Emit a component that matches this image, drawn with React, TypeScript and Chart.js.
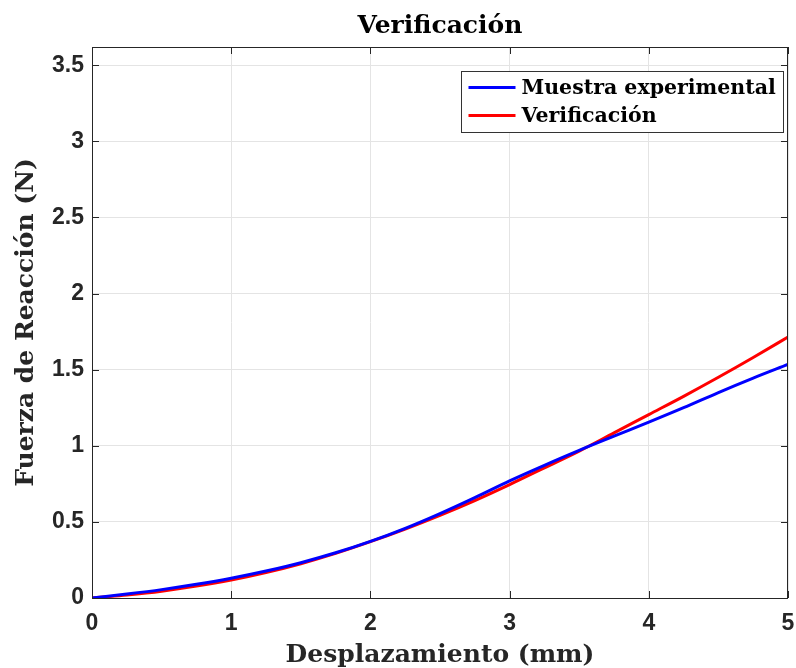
import { useEffect, useRef } from "react";
import { Chart, registerables } from "chart.js";

Chart.register(...registerables);

// Displacement samples (mm)
const desplazamiento = [0, 0.25, 0.5, 0.75, 1, 1.25, 1.5, 1.75, 2, 2.25, 2.5, 2.75, 3, 3.25, 3.5, 3.75, 4, 4.25, 4.5, 4.75, 5];
// Measured reaction force (N)
const muestraExperimental = [0, 0.026, 0.055, 0.09, 0.13, 0.177, 0.232, 0.297, 0.372, 0.458, 0.555, 0.66, 0.77, 0.872, 0.97, 1.063, 1.155, 1.25, 1.35, 1.445, 1.535];
// Model verification (N)
const verificacion = [0, 0.02, 0.045, 0.078, 0.118, 0.167, 0.225, 0.293, 0.37, 0.453, 0.543, 0.64, 0.745, 0.855, 0.965, 1.085, 1.205, 1.325, 1.45, 1.58, 1.715];

const chartTitle = "Verificación";
const seriesLabels = ["Muestra experimental", "Verificación"];
const seriesColors = ["#0000ff", "#ff0000"];

const X_MIN = 0;
const X_MAX = 5;
const Y_MIN = 0;
const Y_MAX = 3.62;

const AXIS_COLOR = "#262626";
const GRID_COLOR = "#e4e4e4";
const SERIF = '"DejaVu Serif", "Liberation Serif", serif';
const SANS = '"Liberation Sans", Arial, sans-serif';

const toPoints = (ys: number[]) => desplazamiento.map((x, i) => ({ x, y: ys[i] }));

// Title centred over the axes, box, inward tick marks and the in-plot legend
const framePlugin = {
  id: "frameAndLegend",
  afterDraw(chart: any) {
    const { ctx, chartArea } = chart;
    const { left, right, top, bottom } = chartArea;
    const xs = chart.scales.x;
    const ys = chart.scales.y;
    const tick = 7;
    ctx.save();

    ctx.font = `bold 25px ${SERIF}`;
    ctx.fillStyle = "#000000";
    ctx.textAlign = "center";
    ctx.textBaseline = "middle";
    ctx.fillText(chartTitle, (left + right) / 2, 26);

    ctx.strokeStyle = AXIS_COLOR;
    ctx.lineWidth = 1;
    ctx.beginPath();
    xs.ticks.forEach((t: any) => {
      const px = Math.round(xs.getPixelForValue(t.value)) + 0.5;
      ctx.moveTo(px, bottom);
      ctx.lineTo(px, bottom - tick);
      ctx.moveTo(px, top);
      ctx.lineTo(px, top + tick);
    });
    ys.ticks.forEach((t: any) => {
      const py = Math.round(ys.getPixelForValue(t.value)) + 0.5;
      ctx.moveTo(left, py);
      ctx.lineTo(left + tick, py);
      ctx.moveTo(right, py);
      ctx.lineTo(right - tick, py);
    });
    ctx.stroke();
    ctx.strokeRect(Math.round(left) + 0.5, Math.round(top) + 0.5, Math.round(right - left) - 1, Math.round(bottom - top));

    // legend
    ctx.font = `bold 20.5px ${SERIF}`;
    const datasets = chart.data.datasets;
    const textW = Math.max(...datasets.map((d: any) => ctx.measureText(d.label).width));
    const sampleW = 47;
    const padL = 7;
    const gap = 6;
    const padR = 8;
    const rowH = 28;
    const boxW = Math.round(padL + sampleW + gap + textW + padR);
    const boxH = 61;
    const bx = Math.round(right - 5 - boxW) + 0.5;
    const by = Math.round(top + 24) + 0.5;
    ctx.fillStyle = "#ffffff";
    ctx.fillRect(bx, by, boxW, boxH);
    ctx.strokeStyle = "#333333";
    ctx.strokeRect(bx, by, boxW, boxH);
    ctx.textBaseline = "middle";
    ctx.textAlign = "left";
    datasets.forEach((d: any, i: number) => {
      const cy = by + 16 + i * rowH;
      ctx.strokeStyle = d.borderColor;
      ctx.lineWidth = 3;
      ctx.beginPath();
      ctx.moveTo(bx + padL, cy);
      ctx.lineTo(bx + padL + sampleW, cy);
      ctx.stroke();
      ctx.fillStyle = "#000000";
      ctx.fillText(d.label, bx + padL + sampleW + gap, cy + 1);
    });
    ctx.restore();
  },
};

export default function App() {
  const canvasRef = useRef<HTMLCanvasElement | null>(null);

  useEffect(() => {
    const canvas = canvasRef.current;
    if (!canvas) return;
    const chart = new Chart(canvas, {
      type: "line",
      data: {
        datasets: [
          {
            label: seriesLabels[0],
            data: toPoints(muestraExperimental),
            borderColor: seriesColors[0],
            backgroundColor: seriesColors[0],
            borderWidth: 3,
            pointRadius: 0,
            cubicInterpolationMode: "monotone",
          },
          {
            label: seriesLabels[1],
            data: toPoints(verificacion),
            borderColor: seriesColors[1],
            backgroundColor: seriesColors[1],
            borderWidth: 3,
            pointRadius: 0,
            cubicInterpolationMode: "monotone",
          },
        ],
      },
      options: {
        responsive: false,
        animation: false,
        layout: { padding: { right: 8, left: 0, top: 47, bottom: 0 } },
        plugins: {
          legend: { display: false },
          tooltip: { enabled: false },
          title: { display: false },
        },
        scales: {
          x: {
            type: "linear",
            min: X_MIN,
            max: X_MAX,
            afterFit: (s: any) => {
              s.height = 70;
              s.paddingLeft = 0;
              s.paddingRight = 0;
            },
            ticks: {
              stepSize: 1,
              color: AXIS_COLOR,
              padding: 12,
              font: { family: SANS, size: 23, weight: "bold" },
              callback: (v: any) => `${Number(v)}`,
            },
            grid: { color: GRID_COLOR, drawTicks: false },
            border: { display: false },
            title: {
              display: true,
              text: "Desplazamiento (mm)",
              color: AXIS_COLOR,
              font: { family: SERIF, size: 25, weight: "bold", lineHeight: 1 },
              padding: { top: 0, bottom: 0 },
            },
          },
          y: {
            type: "linear",
            min: Y_MIN,
            max: Y_MAX,
            afterFit: (s: any) => {
              s.width = 92;
            },
            ticks: {
              stepSize: 0.5,
              includeBounds: false,
              color: AXIS_COLOR,
              padding: 8,
              font: { family: SANS, size: 23, weight: "bold" },
              callback: (v: any) => `${Number(v)}`,
            },
            grid: { color: GRID_COLOR, drawTicks: false },
            border: { display: false },
            title: {
              display: true,
              text: "Fuerza de Reacción (N)",
              color: AXIS_COLOR,
              font: { family: SERIF, size: 25, weight: "bold", lineHeight: 1 },
              padding: { top: 14, bottom: 0 },
            },
          },
        },
      },
      plugins: [framePlugin],
    } as any);
    return () => chart.destroy();
  }, []);

  return (
    <div style={{ position: "fixed", left: 0, top: 0, width: 796, height: 668, background: "#ffffff" }}>
      <canvas ref={canvasRef} width={796} height={668} style={{ display: "block" }} />
    </div>
  );
}
